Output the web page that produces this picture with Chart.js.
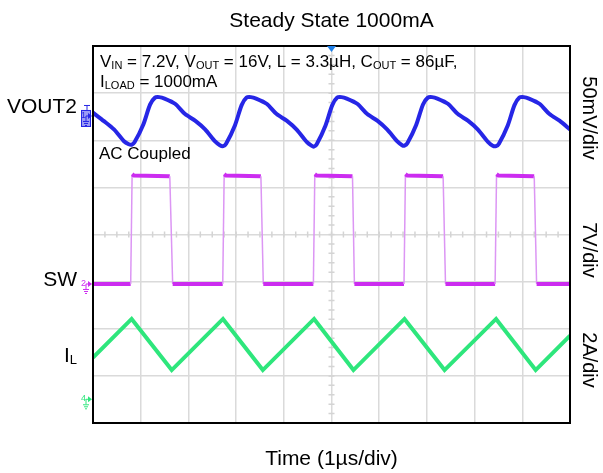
<!DOCTYPE html>
<html>
<head>
<meta charset="utf-8">
<script src="https://cdn.jsdelivr.net/npm/chart.js@4.4.1/dist/chart.umd.min.js"></script>
<style>
  html, body { margin:0; padding:0; background:#fff; }
  #wrap { width:603px; height:473px; }
</style>
</head>
<body>
<div id="wrap"><canvas id="scope" width="603" height="473"></canvas></div>
<script>
// scope capture, time in µs
const titleText = 'Steady State 1000mA';
const timeLabel = 'Time (1µs/div)';
const chanNames = ['VOUT2', 'SW', 'I'];
const chanScales = ['50mV/div', '7V/div', '2A/div'];

// VOUT2, AC coupled (mV)
const voutT  = [0, 0.23, 0.44, 0.65, 0.75,
  0.81, 0.87, 1.055, 1.196, 1.30, 1.39, 1.50, 1.72, 1.93, 2.14, 2.35, 2.56, 2.66,
  2.73, 2.79, 2.975, 3.116, 3.22, 3.31, 3.42, 3.64, 3.85, 4.06, 4.27, 4.48, 4.58,
  4.63, 4.69, 4.875, 5.016, 5.12, 5.21, 5.32, 5.54, 5.75, 5.96, 6.17, 6.38, 6.48,
  6.53, 6.59, 6.775, 6.916, 7.02, 7.11, 7.22, 7.44, 7.65, 7.86, 8.07, 8.28, 8.38,
  8.45, 8.51, 8.695, 8.836, 8.94, 9.03, 9.14, 9.36, 9.57, 9.78, 10];
const voutMv = [3.5, -5.5, -14.3, -26.8, -30,
  -30.5, -28, -9, 12, 19.5, 20, 18.5, 13, 2, -5, -14.3, -27, -31,
  -32, -29.5, -10, 11.5, 19.5, 20, 18.5, 13, 2, -5, -14.5, -27.5, -31.5,
  -32.5, -30, -10, 11.5, 19.5, 20, 18.5, 13, 2, -5, -14.5, -27, -31,
  -31.5, -29, -9.5, 12, 19.5, 20, 18.5, 13, 2, -5, -14.5, -27.5, -31.5,
  -32, -29.5, -10, 11.5, 19.5, 20, 18.5, 13, 2, -5, -14.3];

// SW node (V)
const swT = [0, 0.79, 0.82, 0.86, 1.61, 1.67, 2.72, 2.75, 2.79, 3.52, 3.57,
  4.62, 4.65, 4.69, 5.44, 5.48, 6.52, 6.55, 6.59, 7.34, 7.39,
  8.43, 8.46, 8.50, 9.25, 9.30, 10];
const swV = [0, 0, 16.3, 16.1, 16.0, 0, 0, 16.3, 16.1, 16.0, 0,
  0, 16.3, 16.1, 16.0, 0, 0, 16.3, 16.1, 16.0, 0,
  0, 16.3, 16.1, 16.0, 0, 0];

// inductor current (A)
const ilT = [0, 0.81, 1.65, 2.725, 3.56, 4.635, 5.46, 6.53, 7.37, 8.45, 9.28, 10];
const ilA = [1.77, 3.41, 1.24, 3.41, 1.24, 3.41, 1.24, 3.41, 1.24, 3.41, 1.24, 2.70];

// vertical setup: units per div, ground marker position in divs above centre
const voutPerDiv = 50, swPerDiv = 7, ilPerDiv = 2;
const voutZero = 2.515, swZero = -1.05, ilZero = -3.497;

const BLUE = '#2626e6', MAGENTA = '#cc2cf0', MAG_EDGE = '#dc96f4', GREEN = '#2ee67c';
const FONT = "'Liberation Sans', Arial, sans-serif";

const pts = (xs, ys) => xs.map((x, i) => ({ x, y: ys[i] }));
const range = (perDiv, zero) => ({ min: (-4 - zero) * perDiv, max: (4 - zero) * perDiv });
const hidden = r => ({ type:'linear', display:false, min:r.min, max:r.max });

function subText(ctx, parts, x, y, size) {
  // parts: [text, isSub]
  parts.forEach(([txt, sub]) => {
    ctx.font = `${sub ? Math.round(size * 0.64) : size}px ${FONT}`;
    ctx.fillText(txt, x, y + (sub ? size * 0.14 : 0));
    x += ctx.measureText(txt).width;
  });
}

function groundMark(ctx, x, y, color, num, boxed) {
  ctx.save();
  if (boxed) {
    ctx.fillStyle = 'rgba(120,120,240,0.75)';
    ctx.fillRect(x - 11, y - 6, 10, 17);
    ctx.strokeStyle = BLUE; ctx.lineWidth = 1;
    ctx.strokeRect(x - 10.5, y - 5.5, 9, 16);
    ctx.beginPath();
    ctx.moveTo(x - 8, y - 10.5); ctx.lineTo(x - 2, y - 10.5);
    ctx.moveTo(x - 5, y - 10.5); ctx.lineTo(x - 5, y - 6);
    ctx.stroke();
  }
  ctx.fillStyle = color; ctx.strokeStyle = color; ctx.lineWidth = 1;
  ctx.font = `9px ${FONT}`;
  ctx.textAlign = 'left'; ctx.textBaseline = 'alphabetic';
  ctx.fillText(num, x - 11, y + 2);
  ctx.beginPath();
  ctx.moveTo(x - 6, y); ctx.lineTo(x - 6, y + 5);
  ctx.moveTo(x - 6, y); ctx.lineTo(x - 4, y);
  ctx.moveTo(x - 9, y + 5.5); ctx.lineTo(x - 3, y + 5.5);
  ctx.moveTo(x - 8, y + 7.5); ctx.lineTo(x - 4, y + 7.5);
  ctx.moveTo(x - 7, y + 9.5); ctx.lineTo(x - 5, y + 9.5);
  ctx.stroke();
  ctx.beginPath();
  ctx.moveTo(x - 4, y - 3); ctx.lineTo(x, y); ctx.lineTo(x - 4, y + 3); ctx.closePath();
  ctx.fill();
  ctx.restore();
}

const scopeDeco = {
  id: 'scopeDeco',
  beforeDatasetsDraw(chart) {
    const { ctx, scales } = chart;
    const cx = scales.x.getPixelForValue(5), cy = scales.y.getPixelForValue(0);
    ctx.save();
    ctx.strokeStyle = '#d4d4d4'; ctx.lineWidth = 1.5;
    ctx.beginPath();
    for (let t = 0.25; t < 10; t += 0.25) {
      const px = scales.x.getPixelForValue(t);
      ctx.moveTo(px, cy - 3); ctx.lineTo(px, cy + 3);
    }
    for (let d = -3.8; d < 4; d += 0.2) {
      const py = scales.y.getPixelForValue(d);
      ctx.moveTo(cx - 3, py); ctx.lineTo(cx + 3, py);
    }
    ctx.stroke();
    ctx.restore();
  },
  afterDraw(chart) {
    const { ctx, chartArea: a, scales } = chart;
    const midX = (a.left + a.right) / 2;
    ctx.save();
    // frame
    ctx.strokeStyle = '#000'; ctx.lineWidth = 2;
    ctx.strokeRect(a.left, a.top, a.right - a.left, a.bottom - a.top);
    // trigger marker
    ctx.fillStyle = '#1e7fe8';
    ctx.beginPath();
    ctx.moveTo(midX - 4.5, a.top); ctx.lineTo(midX + 4.5, a.top); ctx.lineTo(midX, a.top + 6);
    ctx.closePath(); ctx.fill();

    ctx.fillStyle = '#000';
    ctx.textBaseline = 'alphabetic';
    ctx.textAlign = 'center';
    ctx.font = `21px ${FONT}`;
    ctx.fillText(titleText, midX, 27);
    ctx.fillText(timeLabel, midX, 465);

    // channel names on the left
    ctx.textAlign = 'right';
    ctx.fillText(chanNames[0], 77, 113);
    ctx.fillText(chanNames[1], 77, 285.5);
    ctx.textAlign = 'left';
    subText(ctx, [[chanNames[2], false], ['L', true]], 64, 361.5, 21);

    // conditions + coupling
    subText(ctx, [['V', false], ['IN', true], [' = 7.2V, V', false], ['OUT', true],
      [' = 16V, L = 3.3µH, C', false], ['OUT', true], [' = 86µF,', false]], 100, 66.5, 17);
    subText(ctx, [['I', false], ['LOAD', true], [' = 1000mA', false]], 100, 86.5, 17);
    ctx.font = `17px ${FONT}`;
    ctx.fillText('AC Coupled', 99, 159);

    // volts/div on the right, rotated
    ctx.font = `20px ${FONT}`;
    ctx.textAlign = 'center';
    [[chanScales[0], 118], [chanScales[1], 250], [chanScales[2], 360]].forEach(([txt, y]) => {
      ctx.save();
      ctx.translate(583, y);
      ctx.rotate(Math.PI / 2);
      ctx.fillText(txt, 0, 0);
      ctx.restore();
    });
    ctx.restore();

    // ground markers
    groundMark(ctx, a.left - 1, scales.yv.getPixelForValue(0), BLUE, '1', true);
    groundMark(ctx, a.left - 1, scales.ys.getPixelForValue(0), MAGENTA, '2', false);
    groundMark(ctx, a.left - 1, scales.yi.getPixelForValue(0), GREEN, '4', false);
  }
};

const isEdge = c => Math.abs(c.p1.parsed.y - c.p0.parsed.y) > 5;

new Chart(document.getElementById('scope'), {
  type: 'line',
  data: {
    datasets: [
      { data: pts(ilT, ilA), yAxisID:'yi', borderColor: GREEN, borderWidth: 4,
        pointRadius: 0, tension: 0, borderJoinStyle: 'miter' },
      { data: pts(swT, swV), yAxisID:'ys', borderColor: MAGENTA, borderWidth: 4,
        pointRadius: 0, tension: 0,
        segment: { borderColor: c => isEdge(c) ? MAG_EDGE : undefined,
                   borderWidth: c => isEdge(c) ? 1.5 : undefined } },
      { data: pts(voutT, voutMv), yAxisID:'yv', borderColor: BLUE, borderWidth: 4,
        pointRadius: 0, tension: 0.25 }
    ]
  },
  options: {
    responsive: false,
    devicePixelRatio: 1,
    animation: false,
    layout: { padding: { left: 93, right: 33, top: 46, bottom: 50 } },
    plugins: { legend: { display:false }, tooltip: { enabled:false }, title: { display:false } },
    scales: {
      x: { type:'linear', min:0, max:10,
           ticks: { display:false, stepSize:1 },
           grid: { color:'#dadada', lineWidth:1.5, drawTicks:false },
           border: { display:false },
           afterFit: s => { s.height = 0; } },
      y: { type:'linear', min:-4, max:4,
           ticks: { display:false, stepSize:1 },
           grid: { color:'#dadada', lineWidth:1.5, drawTicks:false },
           border: { display:false },
           afterFit: s => { s.width = 0; } },
      yv: hidden(range(voutPerDiv, voutZero)),
      ys: hidden(range(swPerDiv, swZero)),
      yi: hidden(range(ilPerDiv, ilZero))
    }
  },
  plugins: [scopeDeco]
});
</script>
</body>
</html>
